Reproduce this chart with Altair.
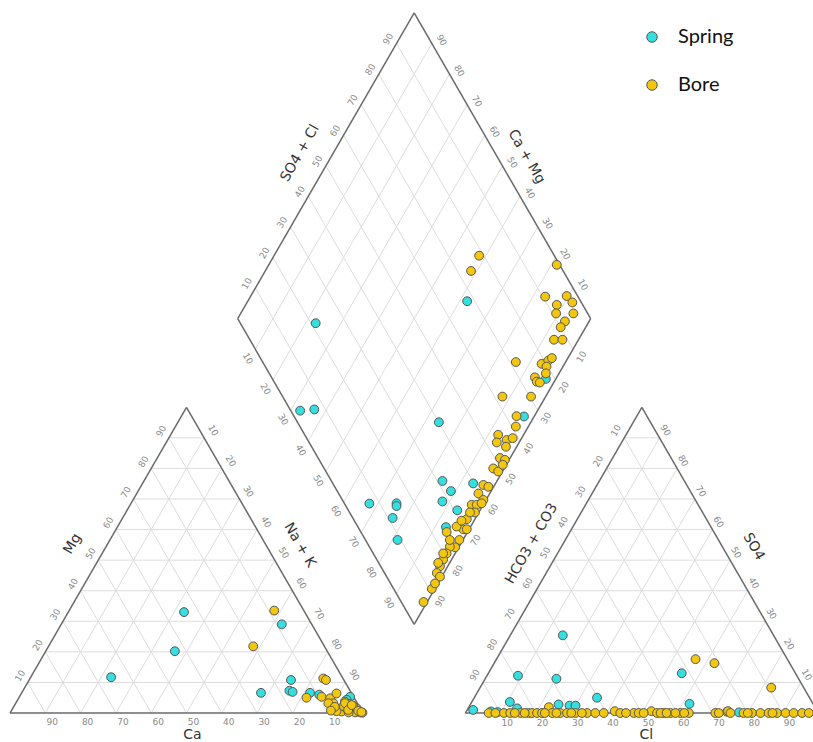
import math
import altair as alt
import pandas as pd

# ---------------------------------------------------------------
# Sample chemistry, percent of meq/L
# ---------------------------------------------------------------
# Cation triangle: Na+K and Mg (Ca is the remainder)
spring_cat_nak = [32.8, 36.6, 22.8, 62.5, 74.2, 67.8, 75.5, 76.6, 81.7, 84.6, 93.7, 93.2]
spring_cat_mg = [33.0, 20.2, 11.7, 29.0, 10.8, 6.6, 7.3, 6.9, 6.6, 6.0, 5.3, 4.3]

bore_cat_nak = [58.1, 58.0, 83.1, 84.1, 81.5, 85.6, 88.3, 89.3, 90.0, 92.5, 93.7, 93.0,
                94.9, 94.6, 96.3, 97.7, 99.1, 99.8, 97.5, 96.1, 93.3, 92.2, 95.8, 88.6,
                98.3, 99.4, 93.3, 95.3, 95.5, 91.0, 90.5]
bore_cat_mg = [33.5, 21.8, 11.3, 10.8, 5.0, 5.3, 4.8, 6.4, 3.2, 1.0, 0.5, 3.7,
               2.9, 1.5, 1.0, 0.2, 0.2, 0.1, 1.5, 2.3, 2.3, 0.6, 0.2, 3.2,
               0.7, 0.3, 3.2, 1.0, 2.6, 2.0, 0.8]

# Anion triangle: Cl and SO4 (HCO3+CO3 is the remainder)
spring_an_cl = [14.9, 8.8, 20.2, 10.8, 34.8, 54.8, 62.0, 1.7, 13.9, 25.0, 28.3, 30.0, 9.0, 7.0, 77.4]
spring_an_so4 = [25.4, 12.2, 11.2, 3.6, 5.0, 13.0, 3.0, 1.0, 1.5, 2.8, 2.4, 2.4, 0.3, 0.5, 0.2]

bore_an_cl = [56.4, 62.4, 82.5, 22.7, 73.9, 42.0, 52.4, 74.1,
              6.6, 10.9, 12.7, 15.6, 17.9, 18.9, 20.3, 21.7, 24.6, 26.9, 28.8, 31.2,
              34.5, 36.8, 39.2, 43.9, 47.7, 49.1, 54.3, 56.2, 58.1, 60.9, 63.3, 70.8,
              71.8, 75.1, 78.8, 81.2, 83.6, 85.9, 88.3, 90.7, 93.0, 95.4, 97.3,
              8.5, 14.0, 16.8, 22.5, 25.8, 30.0, 33.0, 45.5, 50.5, 55.3, 57.0, 59.5,
              62.0, 80.0, 87.0]
bore_an_so4 = [17.6, 16.3, 8.3, 1.9, 0.4, 0.6, 0.6, 0.6,
               0.0, 0.0, 0.0, 0.0, 0.0, 0.0, 0.0, 0.0, 0.0, 0.0, 0.0, 0.0,
               0.0, 0.0, 0.0, 0.0, 0.0, 0.0, 0.0, 0.0, 0.0, 0.0, 0.0, 0.0,
               0.0, 0.0, 0.0, 0.0, 0.0, 0.0, 0.0, 0.0, 0.0, 0.0, 0.0,
               0.0, 0.0, 0.0, 0.0, 0.0, 0.0, 0.0, 0.0, 0.0, 0.0, 0.0, 0.0,
               0.0, 0.0, 0.0]

# Diamond: Na+K and SO4+Cl
spring_dia_nak = [62.15, 22.85, 32.75, 36.55, 73.95, 84.55, 88.6, 87.9, 93.55, 93.65,
                  93.1, 67.55, 75.2, 75.65, 76.5, 81.5, 97.15, 97.1]
spring_dia_so4cl = [67.85, 21.35, 2.65, 6.85, 40.05, 31.45, 32.2, 28.1, 30.85, 39.75,
                    24.9, 7.05, 14.8, 14.35, 11.3, 9.1, 77.45, 65.1]

bore_dia_nak = [58.1, 58.3, 81.6, 83.5, 89.5, 92.15, 88.15, 89.35, 94.25, 93.15,
                92.9, 93.05, 95.45, 85.9, 93.5, 94.85, 95.45, 95.35, 96.25, 93.8,
                95.0, 96.05, 87.75, 95.85, 94.95, 96.45, 92.8, 93.65, 96.05, 96.95,
                97.45, 96.9, 98.8, 97.1, 98.8, 99.0, 96.8, 98.5, 96.8, 99.25,
                96.75, 98.15, 99.3, 98.9, 97.7, 98.35, 99.0, 99.0, 97.4, 97.6,
                97.6, 97.8, 98.0, 99.2, 99.0, 94.1, 96.3, 96.6, 96.75, 99.5,
                96.0, 99.35, 96.45, 97.5, 99.2]
bore_dia_so4cl = [78.7, 73.9, 99.2, 90.7, 96.9, 97.45, 92.65, 91.05, 95.95, 92.25,
                  90.1, 86.15, 88.55, 71.7, 78.7, 81.15, 82.55, 79.65, 78.35, 74.6,
                  74.4, 75.15, 62.25, 70.35, 63.05, 61.15, 54.8, 53.15, 56.35, 55.05,
                  58.35, 47.9, 48.8, 51.5, 52.6, 51.2, 42.4, 43.5, 39.6, 39.95,
                  35.85, 37.25, 38.9, 35.5, 32.1, 29.45, 26.6, 24.2, 22.8, 20.8,
                  18.8, 16.8, 14.8, 10.8, 6.3, 24.3, 23.9, 19.8, 16.85, 15.1,
                  28.0, 30.45, 30.35, 34.1, 12.6]

tick_values = [10, 20, 30, 40, 50, 60, 70, 80, 90]
series_names = ["Spring", "Bore"]
series_colors = ["#35dfe0", "#f3c70d"]

# ---------------------------------------------------------------
# Piper geometry (one triangle side = 100 units)
# ---------------------------------------------------------------
H = math.sqrt(3) / 2
GAP = 29.0                       # spacing between the two triangles
AX0 = 100 + GAP                  # left corner of the anion triangle
DX0, DY0 = 50 + GAP / 2, (100 + GAP) * H   # left corner of the diamond
PX = 3.53                        # pixels per unit
W, HGT = 813, 742
XMIN = -10 / PX
XMAX = XMIN + W / PX
YMAX = 713 / PX
YMIN = YMAX - HGT / PX


def cat_xy(nak, mg):
    return nak + mg / 2, mg * H


def an_xy(cl, so4):
    return AX0 + cl + so4 / 2, so4 * H


def dia_xy(nak, s):
    return DX0 + (nak + s) / 2, DY0 + H * (s - nak)


# ---- points ----
rows = []
for name, cn, cm, ac, asw, dn, ds in [
    ("Spring", spring_cat_nak, spring_cat_mg, spring_an_cl, spring_an_so4,
     spring_dia_nak, spring_dia_so4cl),
    ("Bore", bore_cat_nak, bore_cat_mg, bore_an_cl, bore_an_so4,
     bore_dia_nak, bore_dia_so4cl),
]:
    for a, b in zip(cn, cm):
        x, y = cat_xy(a, b)
        rows.append({"x": x, "y": y, "series": name})
    for a, b in zip(ac, asw):
        x, y = an_xy(a, b)
        rows.append({"x": x, "y": y, "series": name})
    for a, b in zip(dn, ds):
        x, y = dia_xy(a, b)
        rows.append({"x": x, "y": y, "series": name})
for i, r in enumerate(rows):
    r["order"] = i
points = pd.DataFrame(rows)

# ---- grid and outline segments ----
def seg(p, q):
    return {"x": p[0], "y": p[1], "x2": q[0], "y2": q[1]}


grid = []
for t in tick_values:
    for f in (cat_xy, an_xy):
        grid.append(seg(f(0, t), f(100 - t, t)))
        grid.append(seg(f(t, 0), f(t, 100 - t)))
        grid.append(seg(f(100 - t, 0), f(0, 100 - t)))
    grid.append(seg(dia_xy(t, 0), dia_xy(t, 100)))
    grid.append(seg(dia_xy(0, t), dia_xy(100, t)))
grid = pd.DataFrame(grid)

outline = []
for f in (cat_xy, an_xy):
    outline += [seg(f(0, 0), f(100, 0)), seg(f(100, 0), f(0, 100)), seg(f(0, 100), f(0, 0))]
corners = [dia_xy(0, 0), dia_xy(100, 0), dia_xy(100, 100), dia_xy(0, 100)]
for i in range(4):
    outline.append(seg(corners[i], corners[(i + 1) % 4]))
outline = pd.DataFrame(outline)

# ---- tick labels ----
# each edge: position of value v, pixel offset of the label, rotation
edges = [
    (lambda v: cat_xy(100 - v, 0), (7, 9), 0),          # Ca
    (lambda v: cat_xy(0, v), (-7.6, -6.7), 300),        # Mg
    (lambda v: cat_xy(v, 100 - v), (9, -7.5), 60),      # Na + K
    (lambda v: an_xy(v, 0), (6.5, 9.5), 0),             # Cl
    (lambda v: an_xy(0, 100 - v), (-8.3, -7.3), 300),   # HCO3 + CO3
    (lambda v: an_xy(100 - v, v), (6.0, -7.7), 60),     # SO4
    (lambda v: dia_xy(0, v), (-8.5, -4.5), 300),        # SO4 + Cl
    (lambda v: dia_xy(100 - v, 100), (9.8, -3.4), 60),  # Ca + Mg
    (lambda v: dia_xy(v, 0), (-7.5, 9.2), 60),          # Na + K (diamond)
    (lambda v: dia_xy(100, 100 - v), (8.4, 7.6), 300),  # HCO3 + CO3 (diamond)
]
ticks = []
for f, (ox, oy), ang in edges:
    for v in tick_values:
        x, y = f(v)
        ticks.append({"x": x + ox / PX, "y": y - oy / PX, "label": str(v), "angle": ang})
ticks = pd.DataFrame(ticks)

# ---- axis titles: anchored at edge midpoints ----
titles_spec = [
    ("Ca", cat_xy(50, 0), (6, 22), 0),
    ("Mg", cat_xy(0, 50), (-25.6, -16.2), 300),
    ("Na + K", cat_xy(50, 50), (25, -15), 60),
    ("Cl", an_xy(50, 0), (4.5, 22), 0),
    ("HCO3 + CO3", an_xy(0, 50), (-22, -16.5), 300),
    ("SO4", an_xy(50, 50), (23.5, -13.5), 60),
    ("SO4 + Cl", dia_xy(0, 50), (-26, -12.5), 300),
    ("Ca + Mg", dia_xy(50, 100), (24, -9), 60),
]
titles = pd.DataFrame([
    {"x": p[0] + ox / PX, "y": p[1] - oy / PX, "label": t, "angle": a}
    for t, p, (ox, oy), a in titles_spec
])

# ---------------------------------------------------------------
# Chart
# ---------------------------------------------------------------
xs = alt.Scale(domain=[XMIN, XMAX], nice=False, zero=False)
ys = alt.Scale(domain=[YMIN, YMAX], nice=False, zero=False)
X = alt.X("x:Q", scale=xs, axis=None)
Y = alt.Y("y:Q", scale=ys, axis=None)

grid_layer = alt.Chart(grid).mark_rule(color="#dddddd", strokeWidth=1).encode(
    x=X, y=Y, x2="x2:Q", y2="y2:Q")

outline_layer = alt.Chart(outline).mark_rule(color="#6a6a6a", strokeWidth=1.5).encode(
    x=X, y=Y, x2="x2:Q", y2="y2:Q")

tick_layer = alt.Chart(ticks).mark_text(
    font="DejaVu Sans", fontSize=9, color="#8a8a8a", align="center", baseline="middle"
).encode(x=X, y=Y, text="label:N", angle=alt.Angle("angle:Q", scale=None))

title_layer = alt.Chart(titles).mark_text(
    font="DejaVu Sans", fontSize=14, color="#333333", align="center", baseline="middle"
).encode(x=X, y=Y, text="label:N", angle=alt.Angle("angle:Q", scale=None))

point_layer = alt.Chart(points).mark_circle(
    size=78, opacity=1, stroke="#555555", strokeWidth=1
).encode(
    x=X, y=Y,
    order=alt.Order("order:Q"),
    color=alt.Color(
        "series:N",
        scale=alt.Scale(domain=series_names, range=series_colors),
        legend=alt.Legend(
            title=None, orient="none", legendX=642, legendY=27, padding=0,
            symbolType="circle", symbolSize=110, symbolStrokeColor="#555555",
            symbolStrokeWidth=1, labelFont="Lato", labelFontSize=20,
            labelColor="#111111", labelOffset=16, rowPadding=28,
        ),
    ),
)

chart = alt.layer(grid_layer, outline_layer, tick_layer, title_layer, point_layer).properties(
    width=W, height=HGT, padding=0, autosize=alt.AutoSizeParams(type="none"),
    background="white",
).configure_view(stroke=None)

chart.save("out.html", embed_options={"renderer": "svg", "actions": False})
